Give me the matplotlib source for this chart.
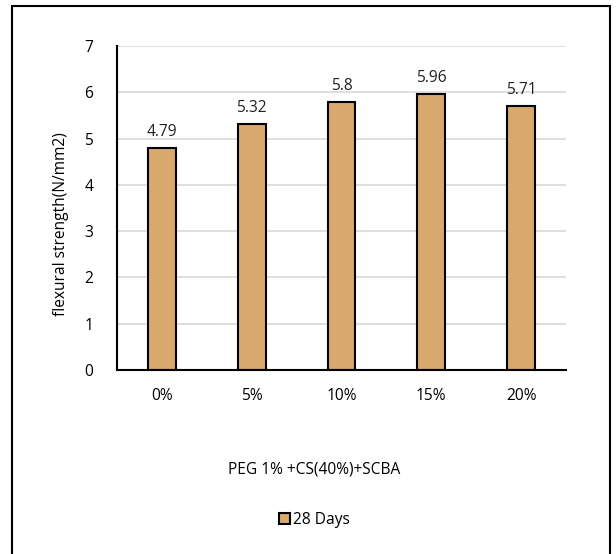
import matplotlib
matplotlib.use("Agg")
import matplotlib.pyplot as plt
from matplotlib.patches import Rectangle

categories = ["0%", "5%", "10%", "15%", "20%"]
values = [4.79, 5.32, 5.80, 5.96, 5.71]
value_labels = ["4.79", "5.32", "5.8", "5.96", "5.71"]
yticks = [0, 1, 2, 3, 4, 5, 6, 7]
series_name = "28 Days"
xlabel = "PEG 1% +CS(40%)+SCBA"
ylabel = "flexural strength(N/mm2)"

plt.rcParams['font.family'] = ['Open Sans', 'DejaVu Sans']
FS = 11.2

fig = plt.figure(figsize=(6.16, 5.54), dpi=100)
ax = fig.add_axes([117/616, 1-370/554, (566-117)/616, (370-46)/554])

x = range(len(categories))
bars = ax.bar(x, values, width=0.31, color="#D9A86C", edgecolor="black",
              linewidth=1.5, zorder=3, label=series_name)
for xi, v, lab in zip(x, values, value_labels):
    ax.text(xi, v + 0.17, lab, ha="center", va="bottom", fontsize=FS, color="#222222")

ax.set_xlim(-0.5, len(categories) - 0.5)
ax.set_ylim(0, 7)
ax.set_yticks(yticks)
ax.set_yticklabels([str(t) for t in yticks], fontsize=FS)
ax.set_xticks(list(x))
ax.set_xticklabels(categories, fontsize=FS)
ax.tick_params(axis="both", length=0)
ax.tick_params(axis="x", pad=13)
ax.tick_params(axis="y", pad=17)
ax.grid(axis="y", color="#D9D9D9", linewidth=1.2, zorder=0)
for s in ["top", "right"]:
    ax.spines[s].set_visible(False)
ax.spines["left"].set_linewidth(1.5)
ax.spines["bottom"].set_linewidth(1.5)
ax.spines["left"].set_zorder(4)
ax.spines["bottom"].set_zorder(4)
ax.set_ylabel(ylabel, fontsize=FS)
ax.yaxis.set_label_coords(-0.108, 0.45)

fig.text(0.51, 1-470/554, xlabel, ha="center", va="center", fontsize=FS)

fig.legend(handles=[bars], labels=[series_name], loc="center",
           bbox_to_anchor=(0.51, 1-520/554), frameon=False, fontsize=FS,
           handlelength=0.7, handleheight=0.7, handletextpad=0.2)

fig.patches.append(Rectangle((12/616, -0.01), (610-12)/616, 1-6/554+0.01,
                             transform=fig.transFigure, fill=False,
                             edgecolor="black", linewidth=1.5))

fig.savefig("out.png", dpi=100)
